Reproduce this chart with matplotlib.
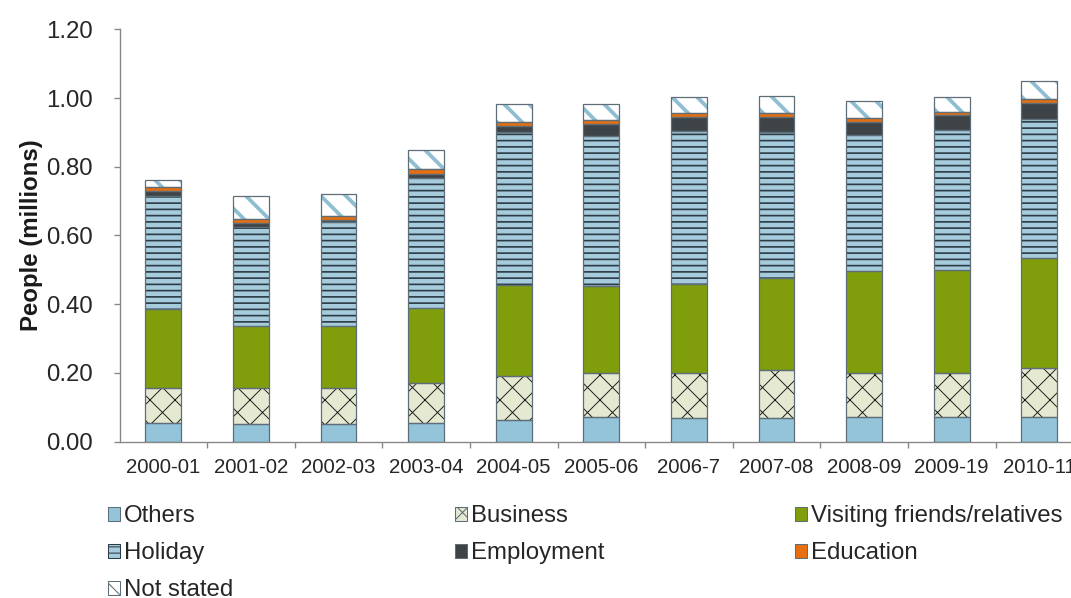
import matplotlib
matplotlib.use('Agg')
import matplotlib.pyplot as plt
from matplotlib.patches import Patch
import numpy as np

plt.rcParams['font.family'] = ['Liberation Sans', 'DejaVu Sans']

years = ['2000-01', '2001-02', '2002-03', '2003-04', '2004-05', '2005-06',
         '2006-7', '2007-08', '2008-09', '2009-19', '2010-11']

# people (millions)
others     = [0.055, 0.051, 0.051, 0.055, 0.063, 0.070, 0.068, 0.068, 0.072, 0.072, 0.072]
business   = [0.100, 0.104, 0.104, 0.115, 0.127, 0.130, 0.130, 0.140, 0.126, 0.126, 0.141]
visiting   = [0.232, 0.180, 0.180, 0.218, 0.265, 0.252, 0.260, 0.269, 0.298, 0.300, 0.320]
holiday    = [0.328, 0.290, 0.303, 0.380, 0.445, 0.438, 0.446, 0.425, 0.397, 0.409, 0.407]
employment = [0.015, 0.010, 0.007, 0.012, 0.018, 0.035, 0.041, 0.043, 0.037, 0.043, 0.045]
education  = [0.010, 0.013, 0.012, 0.013, 0.012, 0.012, 0.010, 0.010, 0.012, 0.010, 0.012]
notstated  = [0.022, 0.067, 0.063, 0.055, 0.053, 0.046, 0.048, 0.051, 0.048, 0.043, 0.053]

names = ['Others', 'Business', 'Visiting friends/relatives', 'Holiday',
         'Employment', 'Education', 'Not stated']
series = [others, business, visiting, holiday, employment, education, notstated]

# fill, hatch, hatch colour, hatch width
styles = [('#93c4da', None, '#93c4da', 1.0),
          ('#e6e9d2', 'x', '#1a1a1a', 0.9),
          ('#809d0b', None, '#809d0b', 1.0),
          ('#a6cbdc', '--', '#2b3a44', 1.6),
          ('#3e4347', None, '#3e4347', 1.0),
          ('#e86f10', None, '#e86f10', 1.0),
          ('#ffffff', '\\', '#8fbdd2', 3.6)]
edge = '#5d6e78'

dpi = 75
fig = plt.figure(figsize=(1071/dpi, 598/dpi), dpi=dpi)
ax = fig.add_axes([0.1116, 0.2617, 0.8997, 0.6893])

x = np.arange(len(years))
width = 0.41
bottom = np.zeros(len(years))
for vals, (fc, h, hc, hw) in zip(series, styles):
  vals = np.array(vals)
  with plt.rc_context({'hatch.linewidth': hw}):
    bars = ax.bar(x, vals, width, bottom=bottom, color=fc, edgecolor=hc,
                  linewidth=0, hatch=h, zorder=2)
  for b in bars:
    if hasattr(b, 'set_hatch_linewidth'):
      b.set_hatch_linewidth(hw)
  ax.bar(x, vals, width, bottom=bottom, fill=False, edgecolor=edge,
         linewidth=1.2, zorder=3)
  bottom += vals

ax.set_xlim(-0.5, len(years) - 0.5)
ax.set_ylim(0, 1.2)
ax.set_yticks(np.arange(0, 1.21, 0.2))
ax.set_yticklabels(['%.2f' % v for v in np.arange(0, 1.21, 0.2)])
ax.set_xticks(x)
ax.set_xticklabels(years)
ax.set_xticks(np.arange(0.5, len(years) - 0.5, 1.0), minor=True)

for s in ['top', 'right']:
  ax.spines[s].set_visible(False)
for s in ['left', 'bottom']:
  ax.spines[s].set_color('#868686')
  ax.spines[s].set_linewidth(1.3)

ax.tick_params(axis='x', which='major', length=0, pad=16, labelsize=19.5, labelcolor='#262626')
ax.tick_params(axis='x', which='minor', length=6, width=1.3, color='#868686', direction='out')
ax.tick_params(axis='y', length=6, width=1.3, color='#868686', pad=20, labelsize=23, labelcolor='#262626')
ax.set_ylabel('People (millions)', fontsize=23, fontweight='bold', labelpad=3, color='#1a1a1a')

# legend laid out row by row in three evenly spaced columns, like the original
handles = []
for (fc, h, hc, hw), name in zip(styles, names):
  ec = hc if h == '--' else edge
  handles.append(Patch(facecolor=fc, edgecolor=ec, hatch=h, linewidth=1.0, label=name))

cols = [[0, 3, 6], [1, 4], [2, 5]]
xpos = [0.1008, 0.4248, 0.7423]
for idx, xp in zip(cols, xpos):
  fig.legend([handles[i] for i in idx], [names[i] for i in idx],
             loc='upper left', bbox_to_anchor=(xp, 0.155), frameon=False,
             fontsize=23, handlelength=0.5, handleheight=0.5, handletextpad=0.15,
             labelspacing=0.63, borderpad=0, borderaxespad=0, labelcolor='#262626')

fig.savefig('out.png', dpi=dpi)
